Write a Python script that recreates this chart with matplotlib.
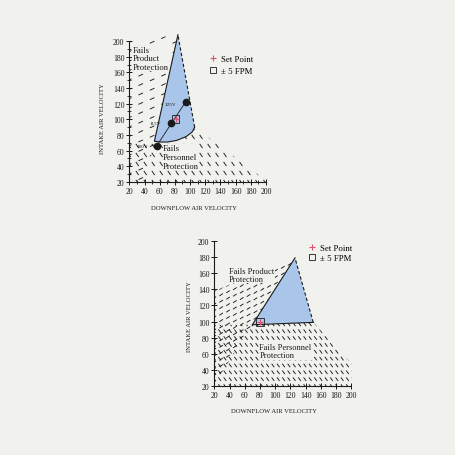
import numpy as np
import matplotlib
matplotlib.use("Agg")
import matplotlib.pyplot as plt
from matplotlib.patches import Polygon, Rectangle
from matplotlib.collections import LineCollection
from matplotlib.lines import Line2D

plt.rcParams["font.family"] = ["Liberation Serif", "DejaVu Serif"]

# ===== data: top panel =====
safe_top_x = [84, 53, 62, 70, 82, 95, 103, 106]
safe_top_y = [208, 72, 71, 71, 73, 78, 84, 90]
prod_top_x = [20, 20, 84, 53, 41]
prod_top_y = [20, 200, 208, 72, 20]
pers_top_x = [20, 20, 53, 62, 70, 82, 95, 103, 106, 200, 200]
pers_top_y = [20, 72, 72, 71, 71, 73, 78, 84, 90, 22, 20]
volt_labels = ["100V", "115V", "125V"]
volt_x = [56, 75.5, 94]
volt_y = [66, 95, 122]
setpt_top = (81, 100)

# ===== data: bottom panel =====
safe_bot_x = [126, 70, 150]
safe_bot_y = [179, 96, 99]
prod_bot_x = [20, 70, 126, 20]
prod_bot_y = [22, 96, 179, 138]
pers_bot_x = [20, 20, 70, 150, 200, 200]
pers_bot_y = [20, 96, 96, 99, 48, 20]
setpt_bot = (80, 100)

tol = 5  # +/- FPM
ticks = np.arange(20, 201, 20)

BG = "#f1f1ee"
FILL = "#a9c5ea"
INK = "#1a1a1a"
RED = "#e0506a"


def strokes(ax, xs, ys, step, row, slope, angle, length, lw=0.65):
    """short dash texture clipped to a region"""
    clip = Polygon(np.column_stack([xs, ys]), closed=True, fc="none",
                   ec="none", transform=ax.transData)
    ax.add_patch(clip)
    x0, x1, y0, y1 = min(xs), max(xs), min(ys), max(ys)
    a = np.radians(angle)
    ux, uy = np.cos(a) * length / 2, np.sin(a) * length / 2
    segs = []
    cmin = y0 - max(slope * x1, slope * x0) - row
    cmax = y1 - min(slope * x1, slope * x0) + row
    for c in np.arange(cmin, cmax, row):
        for x in np.arange(x0 - step, x1 + step, step):
            y = c + slope * x
            if y < y0 - 5 or y > y1 + 5:
                continue
            segs.append([(x - ux, y - uy), (x + ux, y + uy)])
    lc = LineCollection(segs, colors=INK, linewidths=lw)
    lc.set_clip_path(clip)
    ax.add_collection(lc)


def style_axes(ax, top, minor):
    ax.set_facecolor("none")
    ax.set_xlim(20, 200)
    ax.set_ylim(20, top)
    for s in ["top", "right"]:
        ax.spines[s].set_visible(False)
    ax.spines["left"].set_bounds(20, 200)
    ax.spines["bottom"].set_bounds(20, 200)
    for s in ["left", "bottom"]:
        ax.spines[s].set_linewidth(0.8)
        ax.spines[s].set_color(INK)
    ax.set_xticks(ticks)
    ax.set_yticks(ticks)
    ax.tick_params(which="major", direction="inout", length=4, width=0.7,
                   labelsize=5.6, pad=1.5, colors=INK)
    if minor:
        ax.set_xticks(np.arange(30, 200, 20), minor=True)
        ax.set_yticks(np.arange(30, 200, 20), minor=True)
        ax.tick_params(which="minor", direction="inout", length=3, width=0.6,
                       colors=INK)


def add_legend(ax, anchor, spacing):
    h = [Line2D([], [], marker="+", color=RED, ls="none", ms=4, mew=0.8),
         Line2D([], [], marker="s", mfc="none", mec=INK, ls="none", ms=5, mew=0.6)]
    ax.legend(h, ["Set Point", "\u00b1 5 FPM"], loc="upper left",
              bbox_to_anchor=anchor, frameon=False, fontsize=6.3,
              handlelength=0.8, handletextpad=0.5, borderpad=0,
              borderaxespad=0, labelspacing=spacing)


fig = plt.figure(figsize=(4.56, 4.56), dpi=100, facecolor=BG)
txtbox = dict(fc=BG, ec="none", pad=0.2)

# ===== top panel =====
ax = fig.add_axes([0.2836, 0.5987, 0.2998, 0.3298])
style_axes(ax, 212, True)
strokes(ax, prod_top_x, prod_top_y, step=15, row=12, slope=0.4, angle=24, length=6.5)
strokes(ax, pers_top_x, pers_top_y, step=10.5, row=11.5, slope=0, angle=-55, length=6.5)
ax.fill(safe_top_x, safe_top_y, color=FILL, lw=0, zorder=3)
ax.plot(safe_top_x, safe_top_y, color=INK, lw=0.8, zorder=4)
ax.plot([safe_top_x[-1], safe_top_x[0]], [safe_top_y[-1], safe_top_y[0]],
        color=INK, lw=0.8, ls=(0, (3, 2)), zorder=4, clip_on=False)
ax.plot(volt_x, volt_y, color=INK, lw=0.6, marker="o", ms=4.5, zorder=5)
for lab, x, y, dx, dy in zip(volt_labels, volt_x, volt_y, [-27, -29, -28], [0, 0, -2]):
    ax.text(x + dx, y + dy, lab, fontsize=3.8, va="center", zorder=6, color=INK)
ax.add_patch(Rectangle((setpt_top[0] - tol, setpt_top[1] - tol), 2 * tol, 2 * tol,
                       fc="none", ec=INK, lw=0.6, zorder=6))
ax.plot(*setpt_top, marker="+", color=RED, ms=4, mew=0.8, zorder=7)
ax.text(24.5, 178, "Fails\nProduct\nProtection", fontsize=6.2, va="center",
        ha="left", color=INK, zorder=6, bbox=txtbox, linespacing=1.1)
ax.text(64.5, 52, "Fails\nPersonnel\nProtection", fontsize=6.2, va="center",
        ha="left", color=INK, zorder=6, bbox=txtbox, linespacing=1.1)
add_legend(ax, (0.59, 0.845), 0.45)
ax.set_xlabel("DOWNFLOW AIR VELOCITY", fontsize=4.8, color=INK)
ax.set_ylabel("INTAKE AIR VELOCITY", fontsize=4.8, color=INK)
ax.xaxis.set_label_coords(0.47, -0.155)
ax.yaxis.set_label_coords(-0.178, 0.43)

# ===== bottom panel =====
ax = fig.add_axes([0.470, 0.1513, 0.3004, 0.318])
style_axes(ax, 200, False)
strokes(ax, prod_bot_x, prod_bot_y, step=9, row=8, slope=0.42, angle=32, length=5.5)
strokes(ax, pers_bot_x, pers_bot_y, step=7, row=8.5, slope=0, angle=-52, length=5.5)
ax.fill(safe_bot_x, safe_bot_y, color=FILL, lw=0, zorder=3)
ax.plot(safe_bot_x, safe_bot_y, color=INK, lw=0.8, zorder=4)
ax.plot([safe_bot_x[-1], safe_bot_x[0]], [safe_bot_y[-1], safe_bot_y[0]],
        color=INK, lw=0.8, ls=(0, (3, 2)), zorder=4)
ax.add_patch(Rectangle((setpt_bot[0] - tol, setpt_bot[1] - tol), 2 * tol, 2 * tol,
                       fc="none", ec=INK, lw=0.6, zorder=6))
ax.plot(*setpt_bot, marker="+", color=RED, ms=4, mew=0.8, zorder=7)
ax.text(39.5, 158, "Fails Product\nProtection", fontsize=6.0, va="center",
        ha="left", color=INK, zorder=6, bbox=txtbox, linespacing=1.1)
ax.text(79, 63.3, "Fails Personnel\nProtection", fontsize=6.0, va="center",
        ha="left", color=INK, zorder=6, bbox=txtbox, linespacing=1.1)
add_legend(ax, (0.69, 0.98), 0.25)
ax.set_xlabel("DOWNFLOW AIR VELOCITY", fontsize=4.8, color=INK)
ax.set_ylabel("INTAKE AIR VELOCITY", fontsize=4.8, color=INK)
ax.xaxis.set_label_coords(0.436, -0.155)
ax.yaxis.set_label_coords(-0.165, 0.483)

fig.savefig("out.png", dpi=100, facecolor=BG)
